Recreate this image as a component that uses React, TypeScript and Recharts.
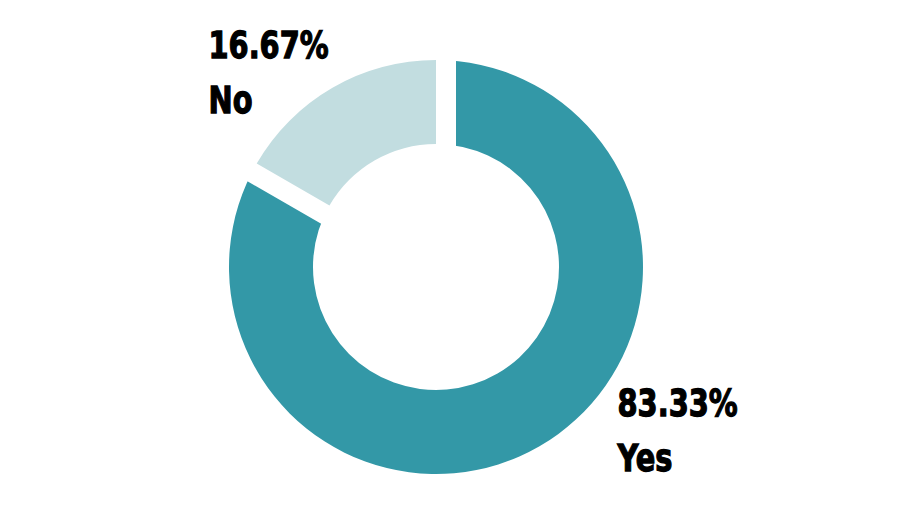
import React from 'react';
import { PieChart, Pie, Cell } from 'recharts';

const answers = ['Yes', 'No'];
const shares = [83.33, 16.67];
const fills = ['#3398A7', '#C2DDE0'];

const data = answers.map((name, i) => ({ name, value: shares[i] }));

const RAD = Math.PI / 180;
const labelFont = "'DejaVu Sans', sans-serif";

// labels sit beside the slice, two lines: share then answer
const renderLabel = (props: any) => {
  const { cx, cy, midAngle, outerRadius, value, name } = props;
  const px = cx + outerRadius * Math.cos(-midAngle * RAD);
  const py = cy + outerRadius * Math.sin(-midAngle * RAD);
  const right = px > cx;
  const x = right ? px + 78 : px - 124;
  // squeeze horizontally, the original uses a condensed face
  return (
    <g transform={`translate(${x} ${py}) scale(0.78 1)`}>
      <text
        x={0}
        y={-30}
        textAnchor="start"
        fill="#000"
        stroke="#000"
        strokeWidth={1.3}
        fontFamily={labelFont}
        fontWeight={700}
        fontSize={37}
      >
        <tspan x={0}>{Number(value).toFixed(2)}%</tspan>
        <tspan x={0} dy={55}>{name}</tspan>
      </text>
    </g>
  );
};

const App: React.FC = () => {
  return (
    <div style={{ position: 'absolute', left: 0, top: 0, width: 922, height: 520, background: '#fff' }}>
      <PieChart width={922} height={520} margin={{ top: 0, right: 0, bottom: 0, left: 0 }}>
        {/* base ring; the No slice is drawn white with a wide white stroke to cut the gaps out of Yes */}
        <Pie
          data={data}
          dataKey="value"
          cx={436}
          cy={267}
          innerRadius={123}
          outerRadius={207}
          startAngle={90}
          endAngle={-270}
          isAnimationActive={false}
          labelLine={false}
        >
          {data.map((d, i) => (
            <Cell
              key={d.name}
              fill={i === 1 ? '#fff' : fills[i]}
              stroke={i === 1 ? '#fff' : 'none'}
              strokeWidth={i === 1 ? 40 : 0}
            />
          ))}
        </Pie>
        {/* No slice redrawn on top */}
        <Pie
          data={data}
          dataKey="value"
          cx={436}
          cy={267}
          innerRadius={123}
          outerRadius={207}
          startAngle={90}
          endAngle={-270}
          isAnimationActive={false}
          labelLine={false}
          label={renderLabel}
        >
          {data.map((d, i) => (
            <Cell key={d.name} fill={i === 1 ? fills[i] : 'transparent'} stroke="none" />
          ))}
        </Pie>
      </PieChart>
    </div>
  );
};

export default App;
